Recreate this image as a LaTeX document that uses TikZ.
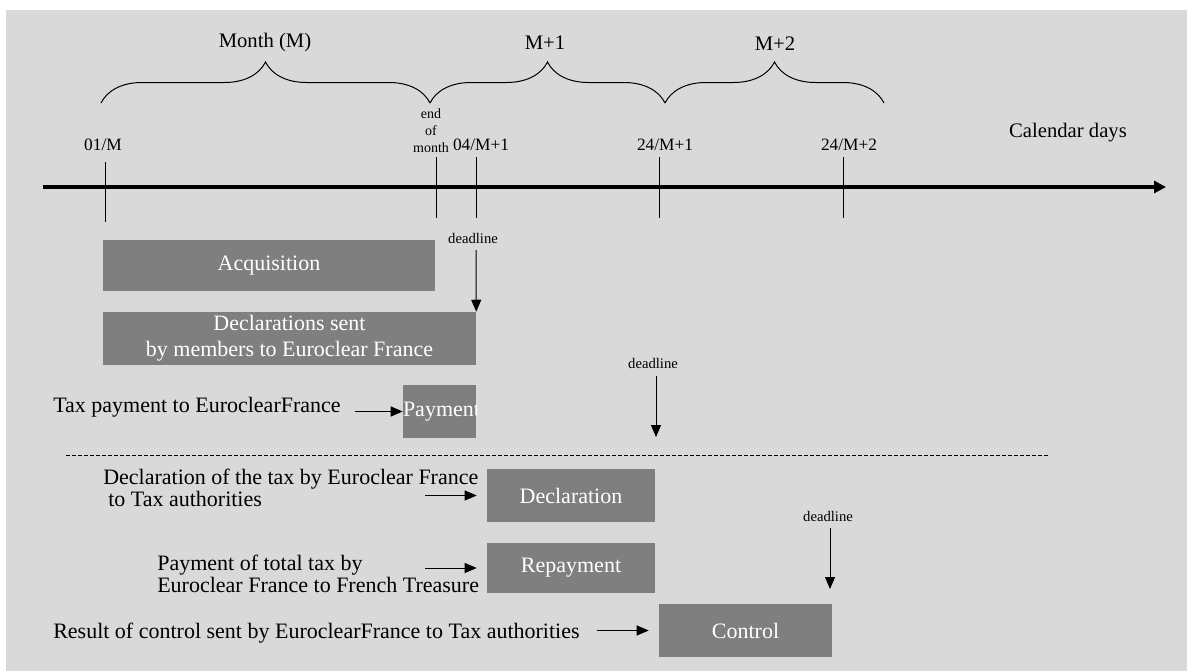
\documentclass[tikz,border=0pt]{standalone}
\usepackage{fontspec}
\setmainfont{Liberation Serif}
\usetikzlibrary{arrows.meta,decorations.pathreplacing,calc}
\definecolor{bggray}{HTML}{D9D9D9}
\definecolor{boxgray}{HTML}{7F7F7F}
\newcommand{\fsz}[2]{\fontsize{#1}{#2}\selectfont}

\begin{document}
\begin{tikzpicture}[>={Triangle[length=9pt,width=7.5pt]}, x=0.75pt, y=-0.75pt,
                    every node/.style={font=\fsz{13pt}{15pt}},
                    phase/.style={fill=boxgray, inner sep=0pt, text=white, align=center,
                                  minimum height=39.75pt, font=\fsz{16.5pt}{19.5pt}},
                    note/.style={anchor=west, inner sep=0pt, align=left,
                                 font=\fsz{16.5pt}{16.5pt}},
                    month/.style={font=\fsz{15.5pt}{18pt}},
                    dline/.style={font=\fsz{11pt}{13pt}},
                    monthbrace/.style={decorate, decoration={brace, amplitude=30.75pt},
                                       line width=0.75pt}]
  \useasboundingbox (0,0) rectangle (1187,671);
  \fill[bggray] (6,10) rectangle (1187,671);

  % months
  \draw[monthbrace] (101,103) -- (430,103);
  \draw[monthbrace] (430,103) -- (665,103);
  \draw[monthbrace] (665,103) -- (884,103);
  \node[month] (mM)  at (265,43) {Month (M)};
  \node[month] (mM1) at (545,43) {M+1};
  \node[month] (mM2) at (775,44) {M+2};

  % time axis
  \coordinate (axl) at (43,187);
  \coordinate (axr) at (1166,187);
  \draw[line width=3pt, -{Triangle[length=9pt,width=9pt]}] (axl) -- (axr);
  \node[month] (cal) at (1068,133) {Calendar days};
  \foreach \x/\t/\b in {105/162/222, 436/157/218, 476/157/218, 659/157/218, 843/157/218}
    \draw[line width=0.75pt] (\x,\t) -- (\x,\b);
  \node (d01)   at (103,145) {01/M};
  \node[align=center, inner sep=0pt, font=\fsz{10.5pt}{12.75pt}] (eom) at (431,131)
       {end\\of\\month};
  \node (d04)   at (481,145) {04/M+1};
  \node (d24a)  at (665,145) {24/M+1};
  \node (d24b)  at (849,145) {24/M+2};

  % members -> Euroclear France
  \node[phase, minimum width=249pt, minimum height=38.25pt] (acq) at (269,265.5)
       {Acquisition};
  \node[phase, minimum width=279.75pt] (decl) at (289.5,338.5)
       {Declarations sent\\by members to Euroclear France};
  \node[dline] (dl1) at (473,238) {deadline};
  \coordinate (dl1top) at (476,250);
  \draw[->, line width=0.75pt] (dl1top) -- (decl.north east);

  \node[phase, minimum width=54.75pt] (pay) at (439.5,411.5) {};
  \begin{scope}
    \clip (pay.south west) rectangle (pay.north east);
    \node[phase, fill=none, minimum height=0pt, anchor=west] (paytxt) at (pay.west)
         {Payment};
  \end{scope}
  \node[note] (taxpay) at (53,407) {Tax payment to EuroclearFrance};
  \coordinate (taxpayend) at (355,411.5);
  \draw[->, line width=0.75pt] (taxpayend) -- (pay.west);

  \node[dline] (dl2) at (653,363) {deadline};
  \coordinate (dl2top) at (656,376);
  \coordinate (dl2bot) at (656,437);
  \draw[->, line width=0.75pt] (dl2top) -- (dl2bot);

  % Euroclear France -> authorities
  \draw[line width=0.75pt, dash pattern=on 3pt off 1.5pt] (66,455) -- (1050,455);

  \node[phase, minimum width=126pt] (declar) at (571,495.5) {Declaration};
  \node[note] (declartxt) at (103,487.5)
       {Declaration of the tax by Euroclear France\\\hspace*{3.75pt}to Tax authorities};
  \coordinate (declarend) at (425,495.5);
  \draw[->, line width=0.75pt, shorten >=7.5pt] (declarend) -- (declar.west);

  \node[phase, minimum width=126pt, minimum height=37.5pt] (repay) at (571,568)
       {Repayment};
  \node[note] (repaytxt) at (157,573.5)
       {Payment of total tax by\\Euroclear France to French Treasure};
  \coordinate (repayend) at (425,568);
  \draw[->, line width=0.75pt, shorten >=7.5pt] (repayend) -- (repay.west);

  \node[dline] (dl3) at (828,516) {deadline};
  \coordinate (dl3top) at (830,528);
  \coordinate (dl3bot) at (830,589);
  \draw[->, line width=0.75pt] (dl3top) -- (dl3bot);

  \node[phase, minimum width=129.75pt] (ctrl) at (745.5,630.5) {Control};
  \node[note] (ctrltxt) at (53,633)
       {Result of control sent by EuroclearFrance to Tax authorities};
  \coordinate (ctrlend) at (597,630.5);
  \draw[->, line width=0.75pt, shorten >=7.5pt] (ctrlend) -- (ctrl.west);
\end{tikzpicture}
\end{document}
